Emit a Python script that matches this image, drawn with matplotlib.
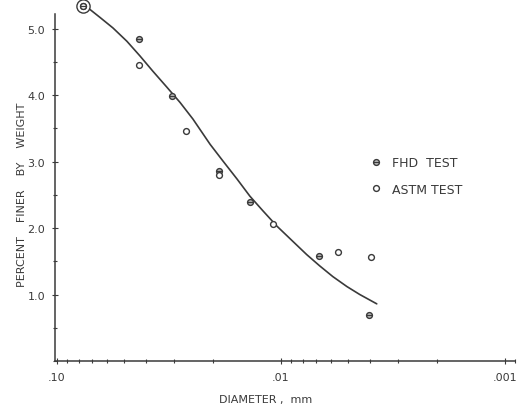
import matplotlib
matplotlib.use("Agg")
import matplotlib.pyplot as plt
from matplotlib.ticker import FixedLocator, FixedFormatter, LogLocator, NullFormatter, MultipleLocator
from matplotlib.legend_handler import HandlerTuple

# Data
fhd_diam = [0.0766, 0.0430, 0.0307, 0.0189, 0.01375, 0.00677, 0.00405]
fhd_pct = [5.34, 4.84, 3.98, 2.86, 2.39, 1.58, 0.69]

astm_diam = [0.0766, 0.0430, 0.0265, 0.0189, 0.01086, 0.00557, 0.00396]
astm_pct = [5.34, 4.45, 3.46, 2.80, 2.06, 1.64, 1.56]

curve_diam = [0.0713, 0.0643, 0.0562, 0.0487, 0.0426, 0.0373, 0.0323, 0.0282,
              0.0247, 0.0207, 0.01815, 0.01571, 0.01375, 0.01203, 0.01042,
              0.00884, 0.00766, 0.0067, 0.00586, 0.00507, 0.00444, 0.00373]
curve_pct = [5.29, 5.17, 5.01, 4.81, 4.59, 4.36, 4.12, 3.89,
             3.64, 3.26, 3.01, 2.74, 2.48, 2.26, 2.03,
             1.80, 1.60, 1.43, 1.27, 1.12, 1.00, 0.86]

x_major = [0.1, 0.01, 0.001]
x_major_labels = [".10", ".01", ".001"]
y_major = [1.0, 2.0, 3.0, 4.0, 5.0]
y_major_labels = ["1.0", "2.0", "3.0", "4.0", "5.0"]

ink = "#3a3a3a"
W, H = 528, 406
fig = plt.figure(figsize=(W / 100, H / 100), dpi=100)
fig.patch.set_facecolor("white")
ax = fig.add_axes([55 / W, 1 - 362 / H, (515 - 55) / W, (362 - 15) / H])
ax.set_facecolor("white")

ax.set_xscale("log")
ax.set_xlim(0.102, 0.0009)
ax.set_ylim(0, 5.22)

ax.plot(curve_diam, curve_pct, color=ink, lw=1.2, zorder=2, clip_on=False,
        solid_joinstyle="round", solid_capstyle="round")

ms = 4.2
h_fhd_o, = ax.plot(fhd_diam, fhd_pct, ls="none", marker="o", ms=ms, mfc="#bdbdbd",
                   mec=ink, mew=1.0, zorder=3, clip_on=False)
h_fhd_bar, = ax.plot(fhd_diam, fhd_pct, ls="none", marker="_", ms=ms, mec=ink,
                     mew=0.9, zorder=4, clip_on=False)
h_astm, = ax.plot(astm_diam, astm_pct, ls="none", marker="o", ms=ms, mfc="white",
                  mec=ink, mew=1.0, zorder=3, clip_on=False)
# outer ring where both tests coincide
ax.plot(astm_diam[:1], astm_pct[:1], ls="none", marker="o", ms=9.5, mfc="none",
        mec=ink, mew=1.0, zorder=3, clip_on=False)

for s in ["top", "right"]:
    ax.spines[s].set_visible(False)
for s in ["left", "bottom"]:
    ax.spines[s].set_color(ink)
    ax.spines[s].set_linewidth(1.1)

ax.xaxis.set_major_locator(FixedLocator(x_major))
ax.xaxis.set_major_formatter(FixedFormatter(x_major_labels))
ax.xaxis.set_minor_locator(LogLocator(base=10, subs=range(2, 10)))
ax.xaxis.set_minor_formatter(NullFormatter())
ax.yaxis.set_major_locator(FixedLocator(y_major))
ax.yaxis.set_major_formatter(FixedFormatter(y_major_labels))
ax.yaxis.set_minor_locator(MultipleLocator(0.5))

ax.tick_params(which="both", direction="inout", color=ink, width=0.8, labelcolor=ink,
               labelsize=8)
ax.tick_params(which="major", length=4)
ax.tick_params(which="minor", length=3)
ax.tick_params(axis="x", pad=6)
ax.tick_params(axis="y", pad=5)

fig.text(22 / W, 1 - 195 / H, "PERCENT    FINER    BY    WEIGHT", rotation=90,
         ha="center", va="center", fontsize=8, color=ink)
fig.text(266 / W, 1 - 400 / H, "DIAMETER ,  mm", ha="center", va="center",
         fontsize=8, color=ink)

leg = ax.legend([(h_fhd_o, h_fhd_bar), h_astm], ["FHD  TEST", "ASTM TEST"],
                handler_map={tuple: HandlerTuple(ndivide=1)},
                loc="upper left", bbox_to_anchor=(370 / W, 1 - 157 / H),
                bbox_transform=fig.transFigure, frameon=False, fontsize=9,
                handlelength=1.0, handletextpad=0.8, labelspacing=1.1,
                borderpad=0, borderaxespad=0)
for t in leg.get_texts():
    t.set_color(ink)

fig.savefig("out.png", dpi=100, facecolor="white")
